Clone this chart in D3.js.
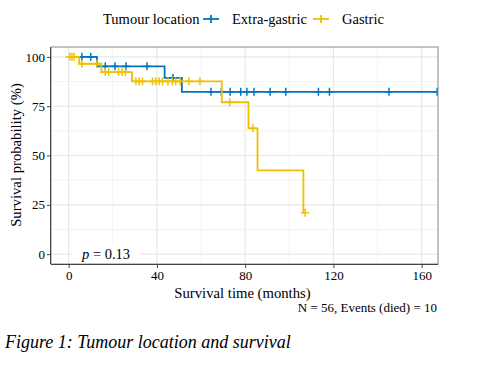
<!DOCTYPE html>
<html>
<head>
<meta charset="utf-8">
<script src="https://cdn.jsdelivr.net/npm/d3@7"></script>
<style>
  body { margin: 0; background: #fff; }
  svg text { font-family: "Liberation Serif", "Times New Roman", serif; fill: #000; }
</style>
</head>
<body>
<div id="chart"></div>
<script>
// Kaplan-Meier steps (time in months, survival in %)
const extraTimes = [0, 12.8, 43.5, 51.3];
const extraSurv = [100, 95.2, 89.3, 82.3];
const extraEnd = 167;
const extraCensor = [6, 10, 16.6, 21, 26, 35.5, 47.3, 64.5, 69.2, 73.2, 78, 80.8, 84, 91.3, 98.4, 113.2, 118.2, 145.2, 167];

const gastricTimes = [0, 4.8, 14.8, 28.7, 69.4, 81.5, 85.6, 106.4];
const gastricSurv = [100, 96.5, 92.3, 87.6, 77, 63.8, 42.5, 21];
const gastricEnd = 107.2;
const gastricCensor = [0.5, 1.5, 2.5, 6, 12.8, 16.6, 18.1, 22.6, 24.2, 25.7, 30.5, 32, 33.5, 38, 39.5, 41, 42.5, 45, 47, 48.5, 50.5, 54.5, 59.5, 73, 83.5, 107.2];

const xTicks = [0, 40, 80, 120, 160];
const yTicks = [0, 25, 50, 75, 100];
const groups = ["Extra-gastric", "Gastric"];
const colors = ["#0073C2", "#EFC000"];

const W = 489, H = 366;
const panel = { left: 51, right: 438, top: 47, bottom: 264 };

const svg = d3.select("#chart").append("svg").attr("width", W).attr("height", H);

const x = d3.scaleLinear().domain([-8, 167.4]).range([panel.left, panel.right]);
const y = d3.scaleLinear().domain([-5, 105]).range([panel.bottom, panel.top]);

// grid
const grid = svg.append("g");
const xMinor = [20, 60, 100, 140];
const yMinor = [12.5, 37.5, 62.5, 87.5];
grid.selectAll(".xmin").data(xMinor).enter().append("line")
  .attr("x1", d => x(d)).attr("x2", d => x(d)).attr("y1", panel.top).attr("y2", panel.bottom)
  .attr("stroke", "#f0f0f0").attr("stroke-width", 0.8);
grid.selectAll(".ymin").data(yMinor).enter().append("line")
  .attr("x1", panel.left).attr("x2", panel.right).attr("y1", d => y(d)).attr("y2", d => y(d))
  .attr("stroke", "#f0f0f0").attr("stroke-width", 0.8);
grid.selectAll(".xmaj").data(xTicks).enter().append("line")
  .attr("x1", d => x(d)).attr("x2", d => x(d)).attr("y1", panel.top).attr("y2", panel.bottom)
  .attr("stroke", "#e8e8e8").attr("stroke-width", 1.2);
grid.selectAll(".ymaj").data(yTicks).enter().append("line")
  .attr("x1", panel.left).attr("x2", panel.right).attr("y1", d => y(d)).attr("y2", d => y(d))
  .attr("stroke", "#e8e8e8").attr("stroke-width", 1.2);

// p-value label box
svg.append("rect").attr("x", 73).attr("y", 243).attr("width", 67).attr("height", 20).attr("fill", "#fff");
const pt = svg.append("text").attr("x", 82).attr("y", 259).attr("font-size", 14.5);
pt.append("tspan").attr("font-style", "italic").text("p");
pt.append("tspan").text(" = 0.13");

// curves
svg.append("defs").append("clipPath").attr("id", "clip")
  .append("rect").attr("x", panel.left).attr("y", panel.top - 10)
  .attr("width", panel.right - panel.left).attr("height", panel.bottom - panel.top + 20);

const line = d3.line().x(d => x(d[0])).y(d => y(d[1])).curve(d3.curveStepAfter);
function stepAt(times, surv, t) {
  let s = surv[0];
  times.forEach((tt, i) => { if (tt <= t) s = surv[i]; });
  return s;
}
const series = [
  { times: extraTimes, surv: extraSurv, end: extraEnd, censor: extraCensor, color: colors[0] },
  { times: gastricTimes, surv: gastricSurv, end: gastricEnd, censor: gastricCensor, color: colors[1] }
];
const curves = svg.append("g").attr("clip-path", "url(#clip)");
series.forEach(s => {
  const pts = s.times.map((t, i) => [t, s.surv[i]]);
  pts.push([s.end, s.surv[s.surv.length - 1]]);
  curves.append("path").attr("d", line(pts)).attr("fill", "none")
    .attr("stroke", s.color).attr("stroke-width", 1.8);
  const g = curves.append("g").attr("stroke", s.color).attr("stroke-width", 1.5);
  s.censor.forEach(t => {
    const cx = x(t), cy = y(stepAt(s.times, s.surv, t));
    g.append("line").attr("x1", cx - 4).attr("x2", cx + 4).attr("y1", cy).attr("y2", cy);
    g.append("line").attr("x1", cx).attr("x2", cx).attr("y1", cy - 4).attr("y2", cy + 4);
  });
});

// panel border
svg.append("rect").attr("x", panel.left).attr("y", panel.top)
  .attr("width", panel.right - panel.left).attr("height", panel.bottom - panel.top)
  .attr("fill", "none").attr("stroke", "#888").attr("stroke-width", 1);

// axes
const xAxis = svg.append("g").attr("transform", `translate(0,${panel.bottom})`)
  .call(d3.axisBottom(x).tickValues(xTicks).tickSize(4).tickPadding(3));
xAxis.select(".domain").attr("d", `M${panel.left},0.5H${panel.right}`).attr("stroke", "#444");
const yAxis = svg.append("g").attr("transform", `translate(${panel.left},0)`)
  .call(d3.axisLeft(y).tickValues(yTicks).tickSize(4).tickPadding(2));
yAxis.select(".domain").attr("d", `M-0.5,${panel.top}V${panel.bottom}`).attr("stroke", "#444");
svg.selectAll(".tick line").attr("stroke", "#444");
svg.selectAll(".tick text").attr("font-size", 13).attr("font-family", "Liberation Serif").attr("fill", "#000");

svg.append("text").attr("x", (panel.left + panel.right) / 2 - 2).attr("y", 298)
  .attr("text-anchor", "middle").attr("font-size", 14.7).text("Survival time (months)");
svg.append("text").attr("transform", `translate(21,155) rotate(-90)`)
  .attr("text-anchor", "middle").attr("font-size", 14.7).text("Survival probability (%)");

svg.append("text").attr("x", 437).attr("y", 312).attr("text-anchor", "end")
  .attr("font-size", 13).text("N = 56, Events (died) = 10");

// legend
const legend = svg.append("g").attr("font-size", 14.5);
legend.append("text").attr("x", 103).attr("y", 24).text("Tumour location");
const keyX = [211, 321];
groups.forEach((gname, i) => {
  const k = legend.append("g").attr("stroke", colors[i]).attr("stroke-width", 1.8);
  k.append("line").attr("x1", keyX[i] - 8).attr("x2", keyX[i] + 8).attr("y1", 19).attr("y2", 19);
  k.append("line").attr("x1", keyX[i]).attr("x2", keyX[i]).attr("y1", 15).attr("y2", 23);
  legend.append("text").attr("x", keyX[i] + 21).attr("y", 24).text(gname);
});

svg.append("text").attr("x", 5).attr("y", 348).attr("font-size", 18)
  .attr("font-style", "italic").text("Figure 1: Tumour location and survival");
</script>
</body>
</html>
